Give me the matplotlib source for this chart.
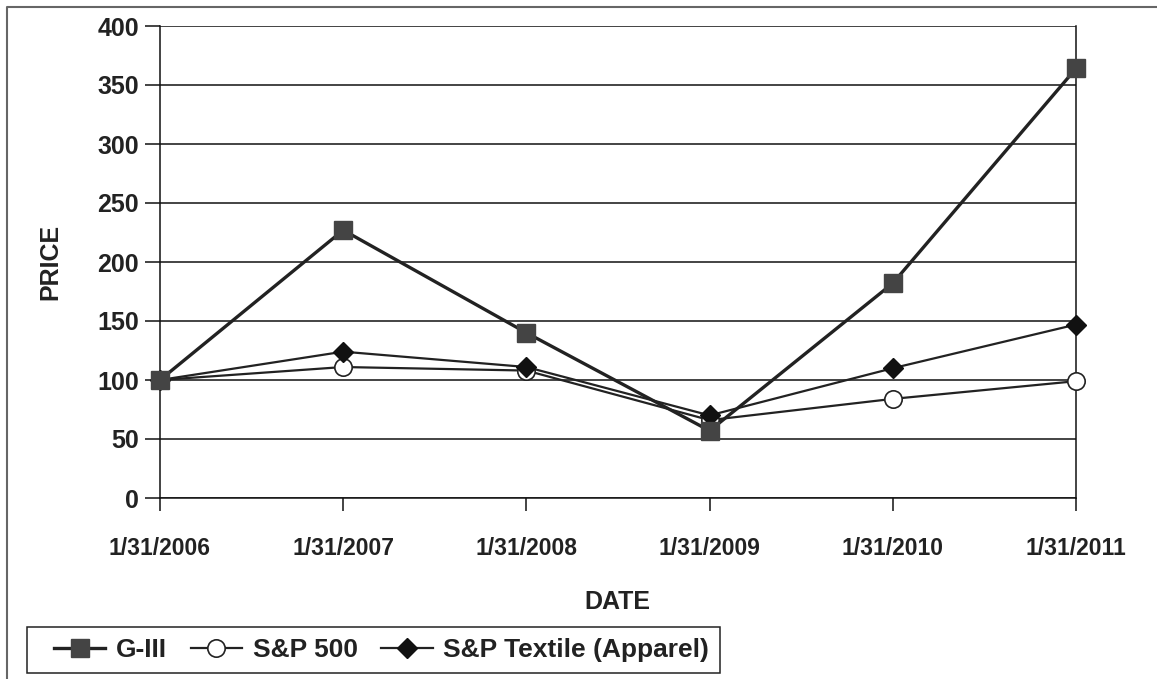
import matplotlib
matplotlib.use("Agg")
import matplotlib.pyplot as plt
from matplotlib.lines import Line2D
from matplotlib.patches import Rectangle

dates = ["1/31/2006", "1/31/2007", "1/31/2008", "1/31/2009", "1/31/2010", "1/31/2011"]
g3 = [100, 227, 140, 57, 182, 364]
sp500 = [100, 111, 108, 66, 84, 99]
textile = [100, 124, 111, 70, 110, 147]
yticks = [0, 50, 100, 150, 200, 250, 300, 350, 400]

plt.rcParams['font.family'] = ['Liberation Sans', 'DejaVu Sans']
plt.rcParams['font.weight'] = 'bold'

W, H = 1157, 679
fig = plt.figure(figsize=(W / 100, H / 100), dpi=100)
ax = fig.add_axes([160 / W, 1 - 498 / H, (1076 - 160) / W, (498 - 26) / H])

x = list(range(len(dates)))
ax.plot(x, sp500, color='#222222', lw=1.6, marker='o', ms=12.5, mfc='white', mec='#222222', mew=1.2,
        label='S&P 500', zorder=3, clip_on=False)
ax.plot(x, textile, color='#222222', lw=1.6, marker='D', ms=10.5, mfc='#111111', mec='#111111',
        label='S&P Textile (Apparel)', zorder=4, clip_on=False)
ax.plot(x, g3, color='#222222', lw=2.4, marker='s', ms=13, mfc='#444444', mec='#444444',
        label='G-III', zorder=5, clip_on=False)

ax.set_xlim(0, len(dates) - 1)
ax.set_ylim(0, 400)
ax.set_yticks(yticks)
ax.set_xticks(x)
ax.set_xticklabels(dates)
ax.yaxis.grid(True, color='#111111', lw=1.1)
ax.set_axisbelow(True)
ax.spines['top'].set_visible(False)
for s in ['left', 'right', 'bottom']:
    ax.spines[s].set_color('#111111')
    ax.spines[s].set_linewidth(1.1)
ax.tick_params(axis='x', direction='out', length=9, width=1.1, pad=19, labelsize=16.5, colors='#111111')
ax.tick_params(axis='y', direction='out', length=11, width=1.1, pad=4, labelsize=18, colors='#111111')
for t in ax.get_xticklabels() + ax.get_yticklabels():
    t.set_fontweight('bold')
    t.set_color('#222222')

fig.text(50 / W, 1 - 262 / H, 'PRICE', rotation=90, ha='center', va='center', fontsize=18,
         fontweight='bold', color='#222222')
fig.text(617 / W, 1 - 602 / H, 'DATE', ha='center', va='center', fontsize=18,
         fontweight='bold', color='#222222')

handles, labels = ax.get_legend_handles_labels()
order = [2, 0, 1]
leg = fig.legend([handles[i] for i in order], [labels[i] for i in order],
                 loc='center', bbox_to_anchor=(381.5 / W, 1 - 650 / H),
                 borderaxespad=0, ncol=3, frameon=False, handlelength=1.95,
                 columnspacing=0.9, handletextpad=0.4, borderpad=0.0,
                 prop={'weight': 'bold', 'size': 19})
for t in leg.get_texts():
    t.set_color('#222222')

# legend box
fig.add_artist(Rectangle((27 / W, 1 - 673 / H), 693 / W, 46 / H, transform=fig.transFigure,
                         fill=False, edgecolor='#222222', lw=1.1))

# outer border (left and top)
fig.add_artist(Line2D([7 / W, 7 / W, 1.0], [0.0, 1 - 7 / H, 1 - 7 / H], transform=fig.transFigure,
                      color='#666666', lw=1.5))

fig.savefig('out.png', dpi=100, facecolor='white')
